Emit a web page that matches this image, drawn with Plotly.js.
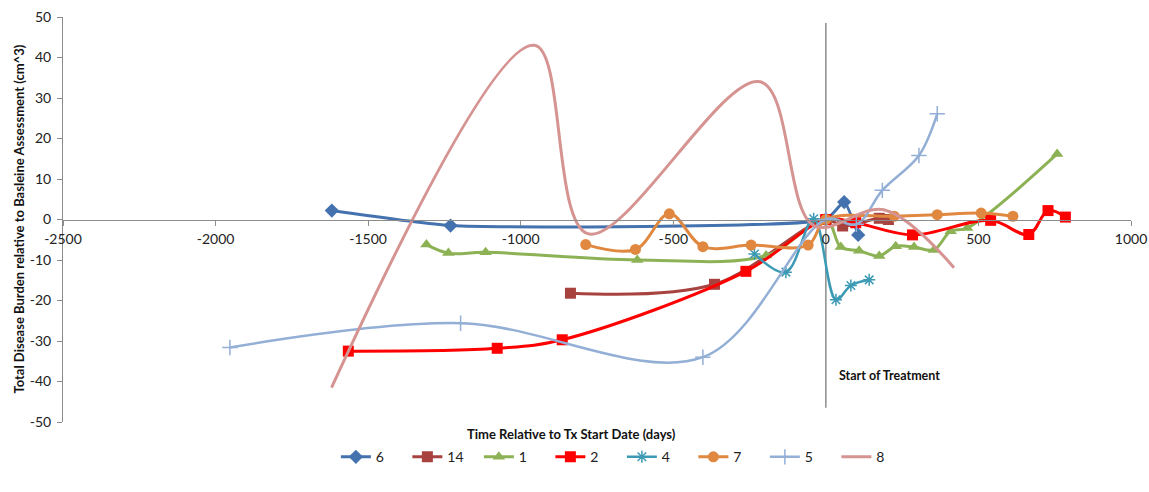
<!DOCTYPE html>
<html>
<head>
<meta charset="utf-8">
<script src="https://cdn.plot.ly/plotly-3.0.1.min.js"></script>
<style>
html,body{margin:0;padding:0;background:#fff;}
#chart{width:1149px;height:492px;}
</style>
</head>
<body>
<div id="chart"></div>
<script>
// Series data (x = days relative to Tx start, y = change in disease burden, cm^3)
var s6_x  = [-1619, -1230, 0, 60, 106];
var s6_y  = [2.2, -1.5, 0, 4.3, -3.8];

var s14_x = [-837, -365, 0, 55, 175, 205];
var s14_y = [-18.2, -16.0, 0, -1.6, 0.3, 0];

var s1_x  = [-1309, -1237, -1115, -618, -196, 0, 49, 109, 175, 229, 289, 354, 409, 463, 758];
var s1_y  = [-6.2, -8.3, -8.1, -10.0, -8.9, 0, -6.8, -7.7, -9.0, -6.6, -6.8, -7.5, -2.9, -2.1, 16.2];

var s2_x  = [-1565, -1077, -864, -262, 0, 98, 284, 540, 665, 728, 785];
var s2_y  = [-32.5, -31.8, -29.7, -12.8, 0, -0.8, -3.8, -0.2, -3.7, 2.2, 0.6];

var s4_x  = [-234, -131, -40, 33, 82, 142];
var s4_y  = [-8.5, -13.0, 0.2, -19.8, -16.3, -14.9];

var s7_x  = [-787, -624, -513, -403, -245, -58, 0, 224, 365, 509, 613];
var s7_y  = [-6.2, -7.4, 1.4, -6.7, -6.3, -6.3, 0, 0.8, 1.2, 1.6, 0.8];

var s5_x  = [-1953, -1197, -403, 0, 100, 185, 305, 365];
var s5_y  = [-31.6, -25.6, -34.0, 0, -1.2, 7.2, 15.8, 26.1];

var s8_x  = [-1620, -955, -780, -215, -40, 190, 420];
var s8_y  = [-41.5, 43.0, -3.5, 34.0, -1.5, 2.4, -11.9];

var seriesNames = ['6', '14', '1', '2', '4', '7', '5', '8'];
var xTicks = [-2500, -2000, -1500, -1000, -500, 0, 500, 1000];
var yTicks = [-50, -40, -30, -20, -10, 0, 10, 20, 30, 40, 50];

var FONT = 'Lato, "Open Sans", "Liberation Sans", sans-serif';

function tr(name, xs, ys, color, symbol, msize, lw, mline, smooth) {
  var t = {
    type: 'scatter', mode: symbol ? 'lines+markers' : 'lines',
    name: name, x: xs, y: ys,
    line: {color: color, width: lw, shape: 'spline', smoothing: smooth || 1},
    cliponaxis: false
  };
  if (symbol) {
    t.marker = {symbol: symbol, size: msize, color: color,
                line: {color: color, width: mline || 0}};
  }
  return t;
}

var data = [
  tr(seriesNames[0], s6_x, s6_y, '#4472AE', 'diamond', 11, 3, 0, 0.45),
  tr(seriesNames[1], s14_x, s14_y, '#A8423F', 'square', 11, 3),
  tr(seriesNames[2], s1_x, s1_y, '#8DB255', 'triangle-up', 11, 3),
  tr(seriesNames[3], s2_x, s2_y, '#FF0000', 'square', 11, 3),
  tr(seriesNames[4], s4_x, s4_y, '#3D9AB5', 'asterisk-open', 10, 2.5, 1.5),
  tr(seriesNames[5], s7_x, s7_y, '#E0883F', 'circle', 11, 3),
  tr(seriesNames[6], s5_x, s5_y, '#93AFD6', 'cross-thin-open', 11, 2.5, 1.5),
  tr(seriesNames[7], s8_x, s8_y, '#D59391', null, 0, 3)
];

var layout = {
  width: 1149, height: 492,
  margin: {l: 63, r: 18, t: 17, b: 70},
  paper_bgcolor: '#fff', plot_bgcolor: 'rgba(0,0,0,0)',
  font: {family: FONT, size: 13, color: '#222'},
  showlegend: true,
  legend: {
    orientation: 'h', x: 0.2555, xanchor: 'left', y: -0.087, yanchor: 'middle',
    font: {family: FONT, size: 14, color: '#222'},
    entrywidth: 26.5, itemwidth: 30, traceorder: 'normal'
  },
  xaxis: {
    range: [-2500, 1000], tickvals: xTicks, ticktext: xTicks.map(String),
    showgrid: false, zeroline: false, showline: true, linecolor: '#8C8C8C', linewidth: 1,
    ticks: 'outside', ticklen: 5, tickcolor: '#8C8C8C',
    anchor: 'free', position: 0.5, ticklabelstandoff: 2,
    tickfont: {family: FONT, size: 14, color: '#222'}
  },
  yaxis: {
    range: [-50, 50], tickvals: yTicks, ticktext: yTicks.map(String),
    showgrid: false, zeroline: false, showline: true, linecolor: '#8C8C8C', linewidth: 1,
    ticks: 'outside', ticklen: 5, tickcolor: '#8C8C8C', ticklabelstandoff: 3,
    tickfont: {family: FONT, size: 14, color: '#222'}
  },
  shapes: [{
    type: 'line', xref: 'x', yref: 'y', x0: 0, x1: 0, y0: -46.5, y1: 48.5,
    line: {color: '#8C8C8C', width: 1.5}, layer: 'below'
  }],
  annotations: [
    {text: '<b>Total Disease Burden relative to Basleine Assessment (cm^3)</b>',
     xref: 'paper', yref: 'paper', x: -0.0421, y: 0.5, textangle: -90,
     showarrow: false, xanchor: 'center', yanchor: 'middle',
     font: {family: FONT, size: 13, color: '#111'}},
    {text: '<b>Time Relative to Tx Start Date (days)</b>',
     xref: 'paper', yref: 'paper', x: 0.4757, y: -0.0296,
     showarrow: false, xanchor: 'center', yanchor: 'middle',
     font: {family: FONT, size: 13, color: '#111'}},
    {text: '<b>Start of Treatment</b>',
     xref: 'x', yref: 'y', x: 0, y: -38.5, xshift: 11,
     showarrow: false, xanchor: 'left', yanchor: 'middle',
     font: {family: FONT, size: 12.5, color: '#111'}}
  ]
};

Plotly.newPlot('chart', data, layout, {displayModeBar: false, staticPlot: true});
</script>
</body>
</html>
